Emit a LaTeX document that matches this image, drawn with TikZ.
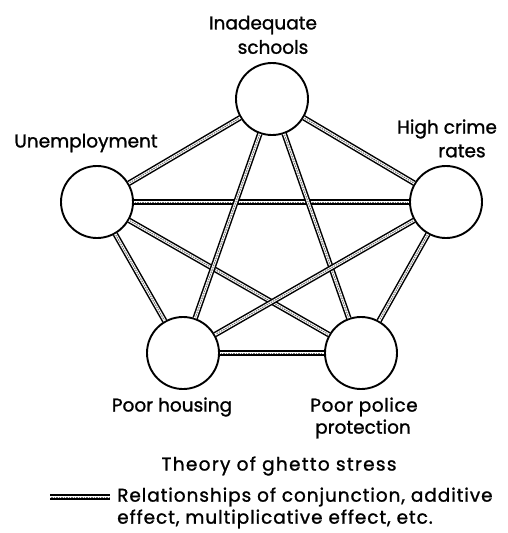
\documentclass[tikz,border=0pt]{standalone}
\usepackage{fontspec}
\setmainfont{Poppins}[FakeBold=1.2]
\begin{document}
\begin{tikzpicture}[x=1pt,y=1pt,
  factor/.style={circle,draw,line width=1.9pt,minimum size=72pt,inner sep=0pt},
  link/.style={line width=1.5pt,double=white,double distance=2.6pt},
  linkfill/.style={line width=1pt,black!55,dash pattern=on 1.5pt off 1pt,shorten <=1pt,shorten >=1pt},
  lbl/.style={font=\fontsize{18.5}{21}\selectfont,inner sep=0pt},
  wide/.style={font=\fontsize{18.5}{21}\selectfont\addfontfeatures{LetterSpace=#1}}]
\useasboundingbox (0,0) rectangle (508,-533);
% the five factors
\node[factor] (school) at (272,-99) {};
\node[factor] (unemp)  at (97,-202) {};
\node[factor] (crime)  at (446,-202) {};
\node[factor] (house)  at (183,-353) {};
\node[factor] (police) at (361,-353) {};
% every factor is tied to every other one
\foreach \a/\b in {unemp/school, school/crime, unemp/crime, unemp/house, unemp/police,
                   school/house, school/police, crime/house, crime/police, house/police}{
  \draw[link] (\a) -- (\b);
  \draw[linkfill] (\a) -- (\b);
}
% labels
\node[lbl] (t1) at (263,-25) {Inadequate};
\node[lbl] (t2) at (273,-47) {schools};
\node[lbl] (t3) at (86,-143) {Unemployment};
\node[lbl] (t4) at (447,-129) {High crime};
\node[lbl] (t5) at (462,-151) {rates};
\node[lbl] (t6) at (172,-407) {Poor housing};
\node[lbl,wide=3] (t7) at (364,-407) {Poor police};
\node[lbl] (t8) at (363,-429) {protection};
\node[lbl,wide=7] (t9) at (279,-466) {Theory of ghetto stress};
% legend
\coordinate (k1) at (50,-497);
\coordinate (k2) at (110,-497);
\draw[link] (k1) -- (k2);
\draw[linkfill] (k1) -- (k2);
\node[lbl,wide=5,anchor=west] (l1) at (117,-497) {Relationships of conjunction, additive};
\node[lbl,wide=5,anchor=west] (l2) at (117,-519) {effect, multiplicative effect, etc.};
\end{tikzpicture}
\end{document}
